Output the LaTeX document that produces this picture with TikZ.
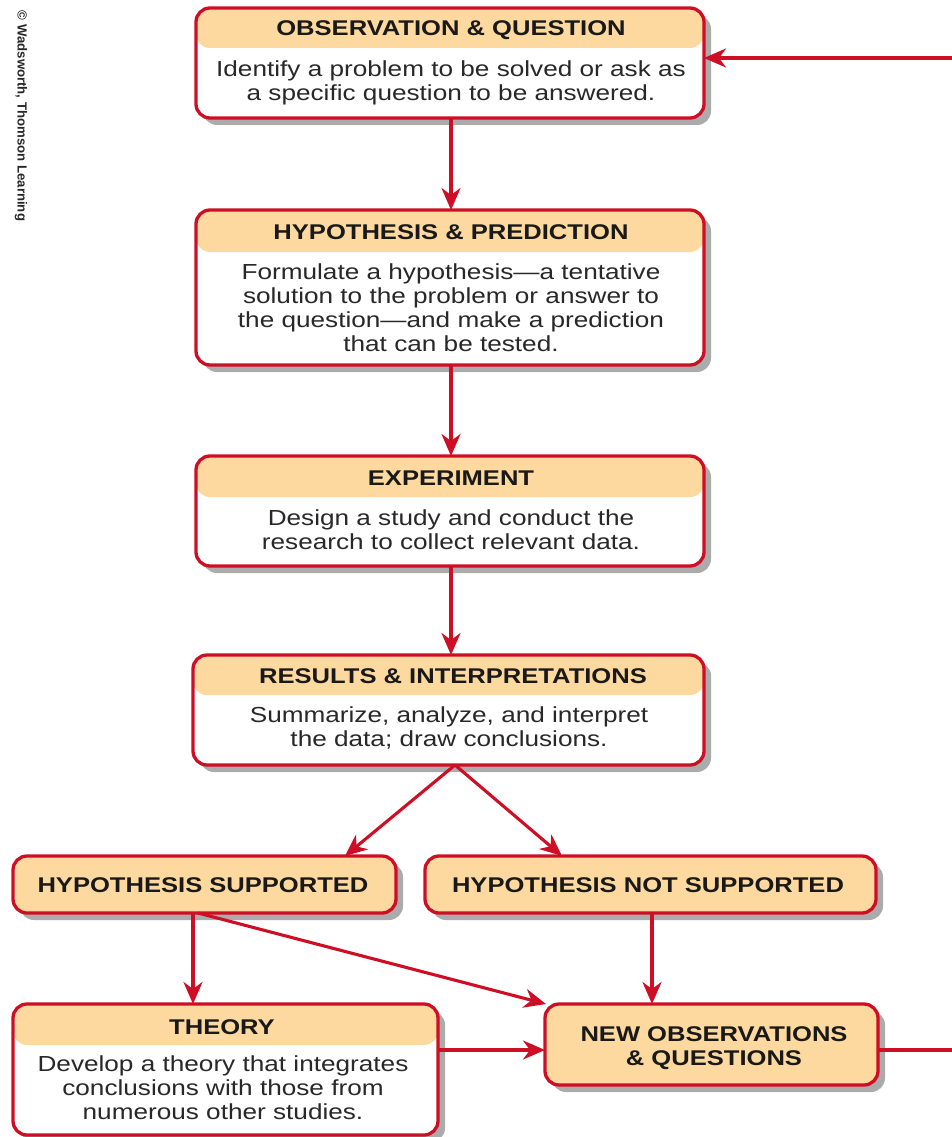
\documentclass[tikz,border=0pt]{standalone}
\usepackage{fontspec}
\setmainfont{Liberation Sans}
\newfontfamily\widefont[FakeStretch=1.2]{Liberation Sans}
\usetikzlibrary{shadows,arrows.meta}
\definecolor{rd}{RGB}{206,14,36}
\definecolor{org}{RGB}{253,217,160}
\definecolor{txt}{RGB}{40,40,40}
\tikzset{
  box/.style={draw=rd, line width=3.3pt, rounded corners=14pt, fill=white, inner sep=0pt, outer sep=0pt, anchor=north west,
    drop shadow={shadow xshift=7pt, shadow yshift=-7pt, fill=black!60, opacity=0.55}},
  hdr/.style={path picture={\fill[org] ([yshift=2pt]path picture bounding box.north west) rectangle ([yshift=-#1]path picture bounding box.north east);}},
  obox/.style={box, fill=org},
  ttl/.style={font=\widefont\bfseries\fontsize{21.3}{24}\selectfont, text=black!90, inner sep=0pt},
  bdy/.style={font=\widefont\fontsize{21.8}{24}\selectfont, text=txt, align=center, inner sep=0pt},
  arr/.style={draw=rd, line width=3.1pt, -{Stealth[length=22pt,width=19pt,inset=7pt]}},
}
\begin{document}
\begin{tikzpicture}[x=1pt,y=-1pt]
\useasboundingbox (0,0) rectangle (951,1137);
% boxes
\node[box, hdr=40pt, minimum width=508pt, minimum height=110pt] (obs) at (196,8) {};
\node[box, hdr=42pt, minimum width=508pt, minimum height=155pt] (hyp) at (196,210) {};
\node[box, hdr=41pt, minimum width=508pt, minimum height=110pt] (exp) at (196,456) {};
\node[box, hdr=40pt, minimum width=511pt, minimum height=110pt] (res) at (193,655) {};
\node[obox, minimum width=383pt, minimum height=57pt] (sup) at (13,856) {};
\node[obox, minimum width=451pt, minimum height=57pt] (nsup) at (425,856) {};
\node[box, hdr=41pt, minimum width=425pt, minimum height=131pt] (thy) at (13,1004) {};
\node[obox, minimum width=333pt, minimum height=81pt] (new) at (545,1004) {};
% texts
\node[ttl] (obsT) at (451,30) {OBSERVATION \& QUESTION};
\node[bdy] (obsB) at (451,83) {Identify a problem to be solved or ask as\\a specific question to be answered.};
\node[ttl] (hypT) at (451,232) {HYPOTHESIS \& PREDICTION};
\node[bdy] (hypB) at (451,308) {Formulate a hypothesis—a tentative\\solution to the problem or answer to\\the question—and make a prediction\\that can be tested.};
\node[ttl] (expT) at (451,478) {EXPERIMENT};
\node[bdy] (expB) at (451,530) {Design a study and conduct the\\research to collect relevant data.};
\node[ttl] (resT) at (453,676) {RESULTS \& INTERPRETATIONS};
\node[bdy] (resB) at (449,728) {Summarize, analyze, and interpret\\the data; draw conclusions.};
\node[ttl] (supT) at (203,885) {HYPOTHESIS SUPPORTED};
\node[ttl] (nsupT) at (648,885) {HYPOTHESIS NOT SUPPORTED};
\node[ttl] (thyT) at (222,1027) {THEORY};
\node[bdy] (thyB) at (223,1088) {Develop a theory that integrates\\conclusions with those from\\numerous other studies.};
\node[ttl, align=center] (newT) at (714,1048) {NEW OBSERVATIONS\\\& QUESTIONS};
\node[font=\bfseries\fontsize{13.2}{15}\selectfont, rotate=-90, text=black!85, inner sep=0pt] (copy) at (21,116) {© Wadsworth, Thomson Learning};
% connectors
\draw[arr] (obs.south -| 451,0) -- (hyp.north -| 451,0);
\draw[arr] (hyp.south -| 451,0) -- (exp.north -| 451,0);
\draw[arr] (exp.south -| 451,0) -- (res.north -| 451,0);
\coordinate (rs) at (455,765);
\draw[arr] (rs) -- (345,856);
\draw[arr] (rs) -- (562,856);
\draw[arr] (sup.south -| 193,0) -- (thy.north -| 193,0);
\coordinate (sd) at (198,913);
\draw[arr] (sd) -- (546,1004);
\draw[arr] (nsup.south -| 652,0) -- (new.north -| 652,0);
\draw[arr] (thy.east |- 0,1050) -- (new.west |- 0,1050);
\coordinate (lp1) at (962,1050);
\coordinate (lp2) at (962,58);
\draw[arr] (new.east |- 0,1050) -- (lp1) -- (lp2) -- (obs.east |- 0,58);
\end{tikzpicture}
\end{document}
